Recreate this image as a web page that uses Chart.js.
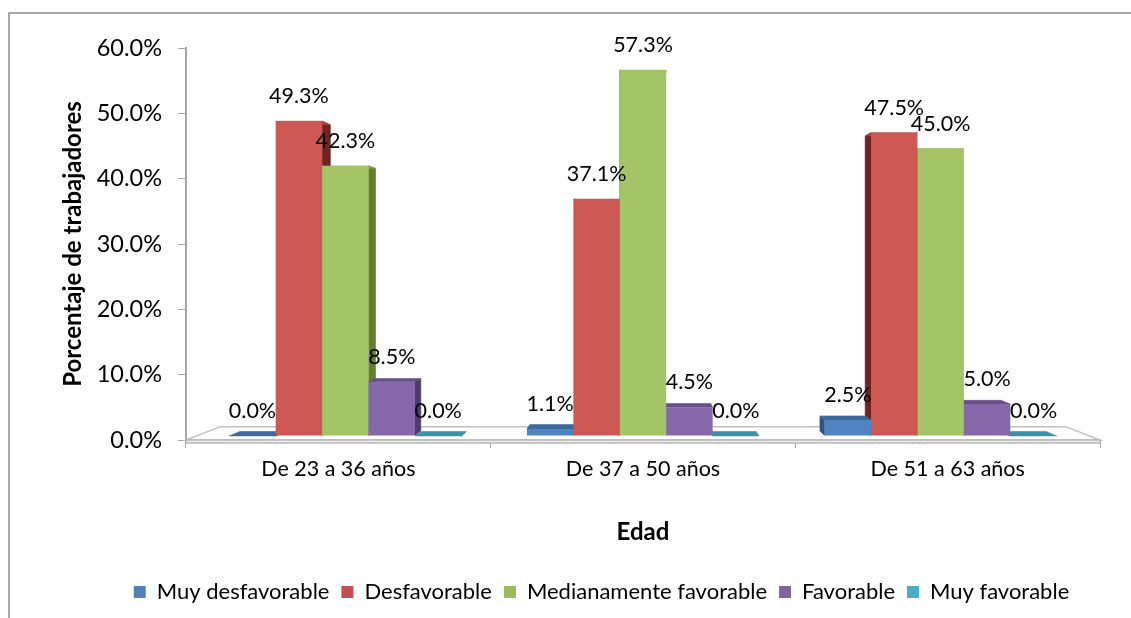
<!DOCTYPE html>
<html>
<head>
<meta charset="utf-8">
<script src="https://cdn.jsdelivr.net/npm/chart.js@4.4.1/dist/chart.umd.min.js"></script>
<style>
  body { margin: 0; background: #fff; }
  canvas { display: block; }
</style>
</head>
<body>
<canvas id="edadChart" width="1131" height="618"></canvas>
<script>
const categories = ['De 23 a 36 años', 'De 37 a 50 años', 'De 51 a 63 años'];
const seriesNames = ['Muy desfavorable', 'Desfavorable', 'Medianamente favorable', 'Favorable', 'Muy favorable'];

const muyDesfavorable = [0.0, 1.1, 2.5];
const desfavorable = [49.3, 37.1, 47.5];
const medianamenteFavorable = [42.3, 57.3, 45.0];
const favorable = [8.5, 4.5, 5.0];
const muyFavorable = [0.0, 0.0, 0.0];

const yMin = 0;
const yMax = 60;
const yStep = 10;

// front / top / side shades for each series
const palette = [
  { legend: '#4f81bd', front: '#4f84c2', top: '#3b69a0', side: '#2e5385' },
  { legend: '#c0504d', front: '#cc5753', top: '#a9403d', side: '#6e2422' },
  { legend: '#9bbb59', front: '#a4c565', top: '#88a64c', side: '#647d35' },
  { legend: '#8064a2', front: '#8468a8', top: '#684f8c', side: '#4f3c6b' },
  { legend: '#4bacc6', front: '#4bacc6', top: '#3893aa', side: '#2a7385' }
];

const seriesValues = [muyDesfavorable, desfavorable, medianamenteFavorable, favorable, muyFavorable];

const FONT = 'Lato, "Noto Sans", sans-serif';

// simple perspective: points are pulled toward a vanishing point by a depth factor
const persp = { vy: 262, barFront: 0.023, barBack: 0.048, floorBack: 0.075 };

function project(vx, px, py, k) {
  return [px + (vx - px) * k, py + (persp.vy - py) * k];
}

function poly(ctx, pts, fill, stroke) {
  ctx.beginPath();
  ctx.moveTo(pts[0][0], pts[0][1]);
  for (let i = 1; i < pts.length; i++) ctx.lineTo(pts[i][0], pts[i][1]);
  ctx.closePath();
  if (fill) { ctx.fillStyle = fill; ctx.fill(); }
  if (stroke) { ctx.strokeStyle = stroke; ctx.stroke(); }
}

const frame = {
  id: 'frame',
  afterLayout(chart) {
    // legend row sits a little right of the canvas centre
    chart.legend.left += 22;
    chart.legend.right += 22;
  },
  beforeDraw(chart) {
    const ctx = chart.ctx;
    ctx.save();
    ctx.strokeStyle = '#8c8c8c';
    ctx.lineWidth = 1.5;
    ctx.beginPath();
    ctx.moveTo(9, chart.height);
    ctx.lineTo(9, 13);
    ctx.lineTo(chart.width, 13);
    ctx.stroke();
    ctx.restore();
  }
};

const bars3d = {
  id: 'bars3d',
  beforeDatasetsDraw(chart) {
    const ctx = chart.ctx;
    const area = chart.chartArea;
    const vx = (area.left + area.right) / 2;
    const base = chart.scales.y.getPixelForValue(0);

    ctx.save();
    // floor slab
    const kf = persp.floorBack;
    const fl = project(vx, area.left, base, kf);
    const fr = project(vx, area.right, base, kf);
    ctx.lineWidth = 1.5;
    poly(ctx, [[area.left, base], [area.right, base], fr, fl], '#ffffff', '#c0c0c0');
    poly(ctx, [[area.left, base], [area.right, base], [area.right, base + 3], [area.left, base + 3]], '#ececec', '#b8b8b8');

    // collect every bar, farthest from the vanishing point first
    const items = [];
    chart.data.datasets.forEach((ds, di) => {
      const meta = chart.getDatasetMeta(di);
      meta.data.forEach((el, i) => {
        const p = el.getProps(['x', 'y', 'base', 'width'], true);
        items.push({ di, i, p, value: ds.data[i] });
      });
    });
    items.sort((a, b) => Math.abs(b.p.x - vx) - Math.abs(a.p.x - vx));

    ctx.lineWidth = 0.6;
    items.forEach(({ di, p }) => {
      const c = palette[di];
      const xl = p.x - p.width / 2;
      const xr = p.x + p.width / 2;
      const k1 = persp.barFront, k2 = persp.barBack;
      const sx = p.x < vx ? xr : xl;
      poly(ctx, [project(vx, sx, p.y, k1), project(vx, sx, p.y, k2), project(vx, sx, p.base, k2), project(vx, sx, p.base, k1)], c.side, c.side);
      poly(ctx, [project(vx, xl, p.y, k1), project(vx, xr, p.y, k1), project(vx, xr, p.y, k2), project(vx, xl, p.y, k2)], c.top, c.top);
      if (p.base - p.y > 0.5) {
        poly(ctx, [project(vx, xl, p.y, k1), project(vx, xr, p.y, k1), project(vx, xr, p.base, k1), project(vx, xl, p.base, k1)], c.front, null);
      }
    });

    // value labels
    ctx.fillStyle = '#000';
    ctx.font = '21.5px ' + FONT;
    ctx.textAlign = 'center';
    ctx.textBaseline = 'middle';
    items.forEach(({ p, value }) => {
      const t = project(vx, p.x, p.y, persp.barFront);
      ctx.fillText(value.toFixed(1) + '%', t[0], t[1] - 25);
    });
    ctx.restore();
    return false;
  }
};

const datasets = seriesNames.map((name, i) => ({
  label: name,
  data: seriesValues[i],
  backgroundColor: palette[i].legend,
  borderWidth: 0
}));

new Chart(document.getElementById('edadChart'), {
  type: 'bar',
  data: { labels: categories, datasets },
  options: {
    responsive: false,
    animation: false,
    devicePixelRatio: 1,
    barPercentage: 1,
    categoryPercentage: 0.78,
    layout: { padding: { left: 59, right: 31, top: 48, bottom: 5 } },
    plugins: {
      tooltip: { enabled: false },
      legend: {
        position: 'bottom',
        labels: {
          boxWidth: 12,
          boxHeight: 12,
          padding: 12,
          color: '#000',
          font: { family: FONT, size: 22 }
        }
      }
    },
    scales: {
      x: {
        offset: true,
        grid: { offset: true, drawOnChartArea: false, tickLength: 8, color: '#a6a6a6' },
        border: { color: '#bfbfbf' },
        ticks: { color: '#000', padding: 8, font: { family: FONT, size: 21.5 } },
        title: {
          display: true,
          text: 'Edad',
          color: '#000',
          font: { family: FONT, size: 24, weight: 'bold' },
          padding: { top: 4, bottom: 22 }
        },
        afterFit(scale) { scale.height = 129; }
      },
      y: {
        min: yMin,
        max: yMax,
        grid: { drawOnChartArea: false, tickLength: 8, color: '#a6a6a6' },
        border: { color: '#a6a6a6', width: 2 },
        ticks: {
          stepSize: yStep,
          color: '#000',
          padding: 16,
          font: { family: FONT, size: 23.5 },
          callback: v => v.toFixed(1) + '%'
        },
        title: {
          display: true,
          text: 'Porcentaje de trabajadores',
          color: '#000',
          font: { family: FONT, size: 24, weight: 'bold' },
          padding: { top: 0, bottom: 0 }
        },
        afterFit(scale) { scale.width = 127; }
      }
    }
  },
  plugins: [frame, bars3d]
});
</script>
</body>
</html>
